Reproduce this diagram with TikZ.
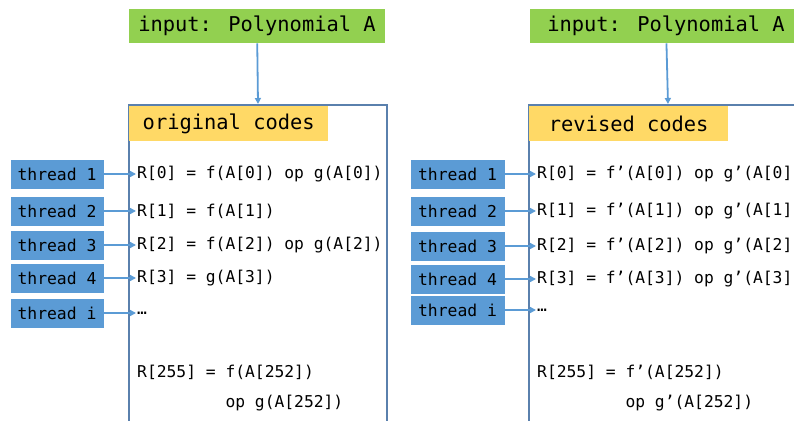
\documentclass[tikz,border=0pt]{standalone}
\usepackage{fontspec}
\newfontfamily\codefont{DejaVu Sans Mono}
\usepackage{tikz}
\usetikzlibrary{arrows.meta,positioning}
\usepackage{xcolor}
\definecolor{inputgreen}{HTML}{92D050}
\definecolor{headyellow}{HTML}{FFD966}
\definecolor{threadblue}{HTML}{5B9BD5}
\definecolor{frameblue}{HTML}{5A80AD}
\definecolor{linkblue}{HTML}{5B9BD5}

\begin{document}
\begin{tikzpicture}[
        x=1pt, y=-1pt,
        inbox/.style={fill=inputgreen, draw=white, line width=0.8pt, minimum height=35pt, inner sep=0pt, font=\codefont\fontsize{20.4}{24}\selectfont},
        frame/.style={draw=frameblue, line width=2pt, minimum height=340pt, inner sep=0pt, anchor=north west},
        head/.style={fill=headyellow, minimum width=199pt, minimum height=35pt, inner sep=0pt, anchor=north west, font=\codefont\fontsize{20.4}{24}\selectfont},
        thread/.style={fill=threadblue, draw=white, line width=0.8pt, minimum width=94pt, minimum height=30pt, inner sep=0pt, font=\codefont\fontsize{16.4}{19}\selectfont},
        code/.style={anchor=west, inner sep=1pt, font=\codefont\fontsize{16.3}{19}\selectfont},
        arrow/.style={-{Triangle[length=6pt,width=6pt]}, draw=linkblue, fill=linkblue, line width=1.8pt}
    ]
        \path[use as bounding box, clip] (0,0) rectangle (794,420);

        % left: original codes
        \node[inbox, minimum width=257pt] (inL) at (257,25.5) {input: Polynomial A};
        \node[frame, minimum width=258pt] (boxL) at (128,104) {};
        \node[head] (hdL) at (129,106) {original codes};
        \draw[arrow] (inL) -- (boxL.north);

        \foreach \y/\n [count=\i] in {174/1, 211/2, 245/3, 278/4, 313/i}
            \node[thread] (tL\i) at (57,\y) {thread \n};

        \node[code] (cL1) at (136,174) {R[0] = f(A[0]) op g(A[0])};
        \node[code] (cL2) at (136,211) {R[1] = f(A[1])};
        \node[code] (cL3) at (136,245) {R[2] = f(A[2]) op g(A[2])};
        \node[code] (cL4) at (136,278) {R[3] = g(A[3])};
        \node[code] (cL5) at (136,313) {…};
        \node[code] (cL6) at (136,372) {R[255] = f(A[252])};
        \node[code] (cL7) at (136,403) {\phantom{R[255] = }op g(A[252])};

        \foreach \i in {1,...,5}
            \draw[arrow] (tL\i) -- (cL\i);

        % right: revised codes
        \node[inbox, minimum width=274pt] (inR) at (666,25.5) {input: Polynomial A};
        \node[frame, minimum width=278pt] (boxR) at (528,104) {};
        \node[head] (hdR) at (529,106) {revised codes};
        \draw[arrow] (inR) -- (boxR.north);

        \foreach \y/\n [count=\i] in {174/1, 211/2, 246/3, 279/4, 310/i}
            \node[thread, minimum width=95pt] (tR\i) at (457.5,\y) {thread \n};

        \node[code] (cR1) at (536,174) {R[0] = f’(A[0]) op g’(A[0])};
        \node[code] (cR2) at (536,211) {R[1] = f’(A[1]) op g’(A[1])};
        \node[code] (cR3) at (536,246) {R[2] = f’(A[2]) op g’(A[2])};
        \node[code] (cR4) at (536,279) {R[3] = f’(A[3]) op g’(A[3])};
        \node[code] (cR5) at (536,310) {…};
        \node[code] (cR6) at (536,372) {R[255] = f’(A[252])};
        \node[code] (cR7) at (536,403) {\phantom{R[255] = }op g’(A[252])};

        \foreach \i in {1,...,5}
            \draw[arrow] (tR\i) -- (cR\i);
    \end{tikzpicture}
\end{document}
